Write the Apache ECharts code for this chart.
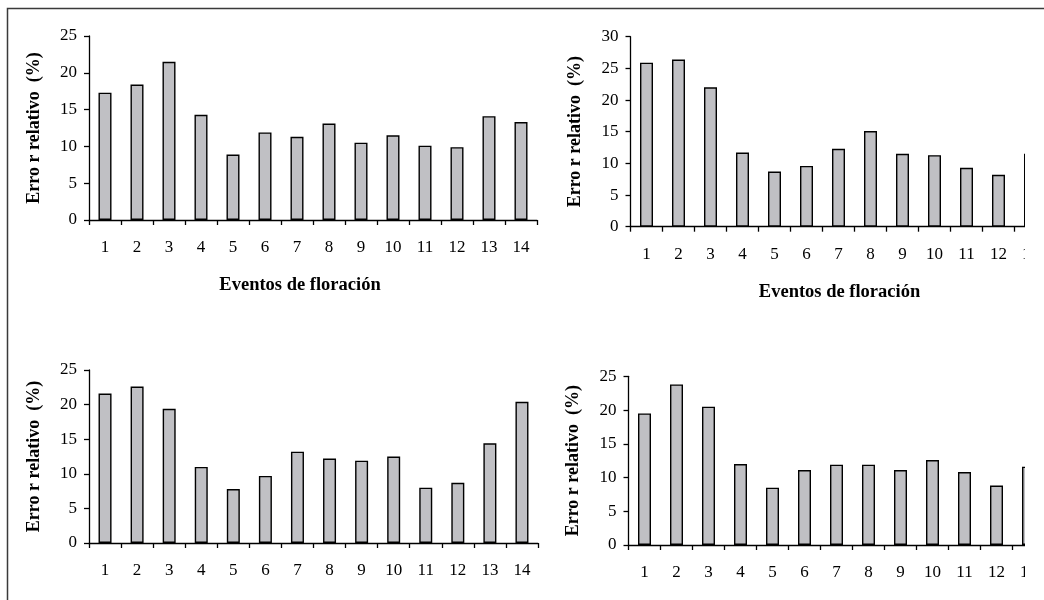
<!DOCTYPE html>
<html>
<head>
<meta charset="utf-8">
<script src="https://cdn.jsdelivr.net/npm/echarts@6/dist/echarts.min.js"></script>
<style>
html,body{margin:0;padding:0;background:#fff;}
#chart{width:1044px;height:600px;}
</style>
</head>
<body>
<div id="chart"></div>
<script>
const categories = ['1','2','3','4','5','6','7','8','9','10','11','12','13','14'];
const errorTopLeft = [17.3, 18.4, 21.5, 14.3, 8.9, 11.9, 11.3, 13.1, 10.5, 11.5, 10.1, 9.9, 14.1, 13.3];
const errorTopRight = [25.9, 26.4, 22.0, 11.7, 8.7, 9.6, 12.3, 15.1, 11.5, 11.3, 9.3, 8.2, 11.5, null];
const errorBottomLeft = [21.6, 22.6, 19.4, 11.0, 7.8, 9.7, 13.2, 12.2, 11.9, 12.5, 8.0, 8.7, 14.4, 20.4];
const errorBottomRight = [19.5, 23.8, 20.5, 12.0, 8.5, 11.1, 11.9, 11.9, 11.1, 12.6, 10.8, 8.8, 11.6, null];
const yMaxes = [25, 30, 25, 25];
const yInterval = 5;
const yTitle = 'Erro r relativo  (%)';
const xTitle = 'Eventos de floración';

const FONT = '"Liberation Serif", "Times New Roman", serif';
const grids = [
  {left: 89, top: 36, width: 448, height: 184},
  {left: 630.5, top: 36.7, width: 448, height: 190},
  {left: 89, top: 370, width: 449, height: 173},
  {left: 628.5, top: 376.3, width: 448, height: 168.7}
];
const seriesData = [errorTopLeft, errorTopRight, errorBottomLeft, errorBottomRight];

const xAxes = grids.map((g, i) => ({
  type: 'category', gridIndex: i, data: categories,
  axisLine: {lineStyle: {color: '#000', width: 1.3}},
  axisTick: {show: true, length: 5, lineStyle: {color: '#000', width: 1.3}, alignWithLabel: false},
  axisLabel: {color: '#000', fontFamily: FONT, fontSize: 17, margin: 19, interval: 0}
}));
const yAxes = grids.map((g, i) => ({
  type: 'value', gridIndex: i, min: 0, max: yMaxes[i], interval: yInterval,
  name: yTitle, nameLocation: 'middle', nameGap: 46,
  nameTextStyle: {color: '#000', fontFamily: FONT, fontSize: 18, fontWeight: 'bold'},
  axisLine: {show: true, lineStyle: {color: '#000', width: 1.3}},
  axisTick: {show: true, length: 5, lineStyle: {color: '#000', width: 1.3}},
  splitLine: {show: false},
  axisLabel: {color: '#000', fontFamily: FONT, fontSize: 17, margin: 12}
}));
const series = seriesData.map((d, i) => ({
  type: 'bar', xAxisIndex: i, yAxisIndex: i, data: d,
  barWidth: 13,
  itemStyle: {color: '#c0c0c4', borderColor: '#000', borderWidth: 1.4},
  silent: true
}));

const chart = echarts.init(document.getElementById('chart'), null, {renderer: 'canvas'});
chart.setOption({
  animation: false,
  backgroundColor: '#fff',
  grid: grids.map(g => Object.assign({containLabel: false, outerBoundsMode: 'none'}, g)),
  xAxis: xAxes,
  yAxis: yAxes,
  series: series,
  graphic: [
    {type: 'text', x: 300, y: 285.5, z: 50,
     style: {text: xTitle, fontFamily: FONT, fontSize: 18.5, fontWeight: 'bold', fill: '#000', align: 'center', verticalAlign: 'middle'}},
    {type: 'text', x: 839.5, y: 292, z: 50,
     style: {text: xTitle, fontFamily: FONT, fontSize: 18.5, fontWeight: 'bold', fill: '#000', align: 'center', verticalAlign: 'middle'}},
    {type: 'rect', z: 100, shape: {x: 1025, y: 10, width: 19, height: 590}, style: {fill: '#fff'}},
    {type: 'polyline', z: 101, shape: {points: [[7.5, 600], [7.5, 8.5], [1044, 8.5]]},
     style: {stroke: '#3a3a3a', lineWidth: 1.5, fill: null}}
  ]
});
</script>
</body>
</html>
